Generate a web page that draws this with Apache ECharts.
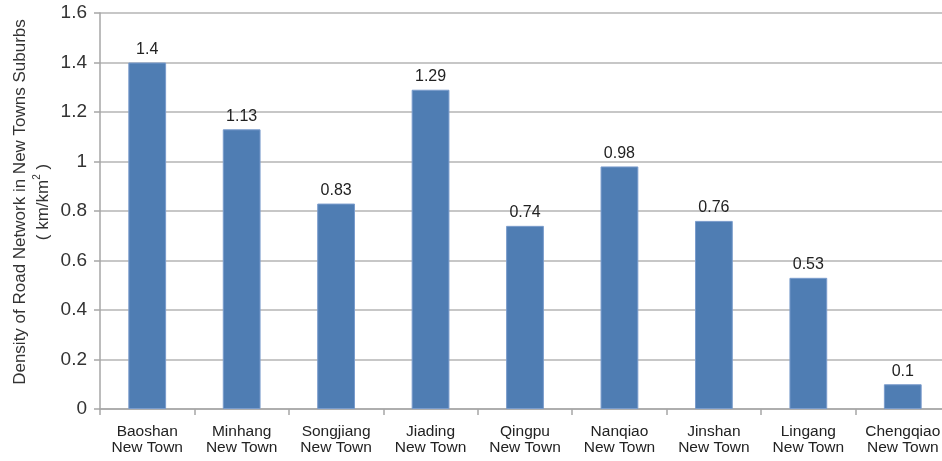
<!DOCTYPE html>
<html><head><meta charset="utf-8">
<script src="https://cdn.jsdelivr.net/npm/echarts@6/dist/echarts.min.js"></script>
<style>html,body{margin:0;padding:0;background:#fff}#c{width:942px;height:461px}</style>
</head><body><div id="c"></div>
<script>
const categories = ['Baoshan\nNew Town','Minhang\nNew Town','Songjiang\nNew Town','Jiading\nNew Town','Qingpu\nNew Town','Nanqiao\nNew Town','Jinshan\nNew Town','Lingang\nNew Town','Chengqiao\nNew Town'];
const values = [1.4, 1.13, 0.83, 1.29, 0.74, 0.98, 0.76, 0.53, 0.1];
const yTicks = [0, 0.2, 0.4, 0.6, 0.8, 1, 1.2, 1.4, 1.6];

const chart = echarts.init(document.getElementById('c'));
chart.setOption({
  animation: false,
  textStyle: { fontFamily: 'Liberation Sans, Arial, sans-serif' },
  grid: { left: 100, right: -8, top: 13, bottom: 52, containLabel: false, outerBoundsMode: 'none' },
  xAxis: {
    type: 'category', data: categories,
    axisLine: { lineStyle: { color: '#a6a6a6', width: 1.5 } },
    axisTick: { show: true, length: 6, lineStyle: { color: '#a6a6a6', width: 1.5 } },
    axisLabel: { color: '#222', fontSize: 15.5, lineHeight: 16, margin: 15, interval: 0 }
  },
  yAxis: {
    type: 'value', min: yTicks[0], max: yTicks[yTicks.length - 1], interval: 0.2,
    name: '{a|Density of Road Network in New Towns Suburbs}\n{a|( km/km}{s|2}{a| )}',
    nameLocation: 'middle', nameGap: 45, nameRotate: 90, nameMoveOverlap: false,
    nameTextStyle: { color: '#333', lineHeight: 23, padding: [0, 0, 0, 18], rich: { a: { fontSize: 17, color: '#333', lineHeight: 23 }, s: { fontSize: 10, color: '#333', verticalAlign: 'top', padding: [0, 0, 8, 0] } } },
    axisLine: { show: true, lineStyle: { color: '#a6a6a6', width: 1.5 } },
    axisTick: { show: true, length: 6, lineStyle: { color: '#a6a6a6', width: 1.5 } },
    axisLabel: { color: '#333', fontSize: 19, margin: 13, formatter: v => String(+v.toFixed(1)) },
    splitLine: { lineStyle: { color: '#b4b4b4', width: 1.5 } }
  },
  series: [{
    type: 'bar', data: values, barWidth: '40%',
    itemStyle: { color: '#4f7db3', borderColor: '#7a9ccc', borderWidth: 1 },
    label: { show: true, position: 'top', color: '#222', fontSize: 16, distance: 5 }
  }]
});
</script></body></html>
